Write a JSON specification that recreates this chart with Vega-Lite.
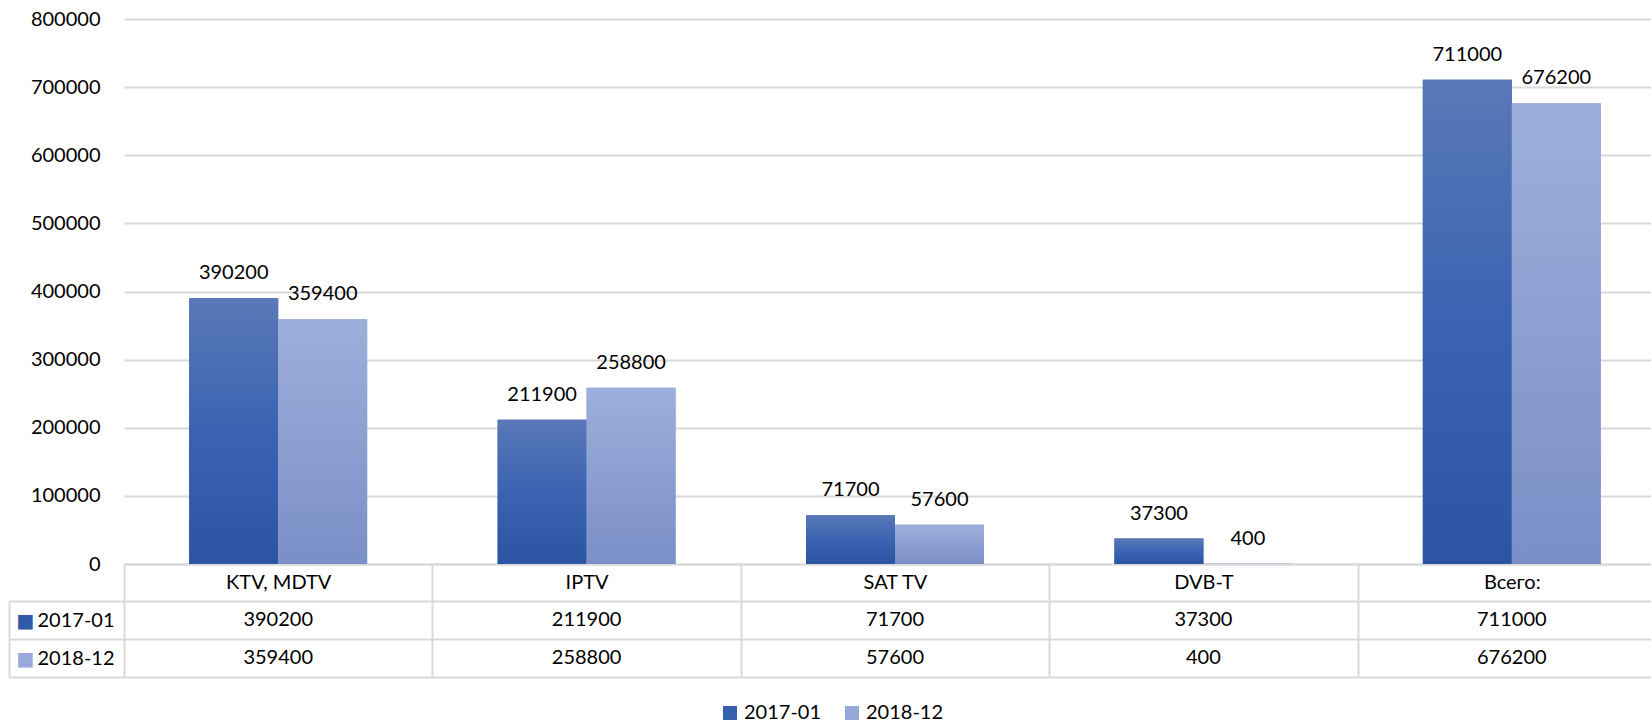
{
  "$schema": "https://vega.github.io/schema/vega-lite/v6.json",
  "padding": {"left": 8, "top": 9, "right": -15, "bottom": 0},
  "config": {
    "font": "Lato",
    "view": {"stroke": null},
    "text": {"font": "Lato"}
  },
  "datasets": {
    "main": [
      {"category": "KTV, MDTV", "series": "2017-01", "value": 390200},
      {"category": "KTV, MDTV", "series": "2018-12", "value": 359400},
      {"category": "IPTV", "series": "2017-01", "value": 211900},
      {"category": "IPTV", "series": "2018-12", "value": 258800},
      {"category": "SAT TV", "series": "2017-01", "value": 71700},
      {"category": "SAT TV", "series": "2018-12", "value": 57600},
      {"category": "DVB-T", "series": "2017-01", "value": 37300},
      {"category": "DVB-T", "series": "2018-12", "value": 400},
      {"category": "Всего:", "series": "2017-01", "value": 711000},
      {"category": "Всего:", "series": "2018-12", "value": 676200}
    ]
  },
  "bounds": "flush",
  "spacing": 37,
  "vconcat": [
    {
      "width": 1542,
      "height": 545,
      "data": {"name": "main"},
      "encoding": {
        "x": {
          "field": "category", "type": "nominal", "sort": null,
          "scale": {"paddingInner": 0.423, "paddingOuter": 0.2115},
          "axis": {
            "title": null, "labelAngle": 0, "grid": false,
            "domainColor": "#d9d9d9", "domainWidth": 2,
            "bandPosition": 0, "tickOffset": -65.2, "labelOffset": 65.2, "tickSize": 37,
            "tickColor": "#d9d9d9", "tickWidth": 2,
            "labelFontSize": 20, "labelColor": "#000000", "labelPadding": -18.5, "labelBaseline": "middle",
            "labelFont": "Lato"
          }
        },
        "xOffset": {"field": "series", "type": "nominal", "scale": {"paddingInner": 0, "paddingOuter": 0}},
        "y": {
          "field": "value", "type": "quantitative",
          "scale": {"domain": [0, 800000], "nice": false},
          "axis": {
            "title": null,
            "values": [0, 100000, 200000, 300000, 400000, 500000, 600000, 700000, 800000],
            "format": "d", "domain": false, "ticks": false, "labelPadding": 24,
            "labelFontSize": 20, "labelColor": "#000000", "labelFont": "Lato",
            "gridColor": "#d9d9d9", "gridWidth": 2
          }
        }
      },
      "layer": [
        {
          "mark": {"type": "bar"},
          "encoding": {
            "color": {
              "field": "series", "type": "nominal",
              "scale": {"range": ["#3560ae", "#95a8d8"]},
              "legend": {
                "title": null, "orient": "none", "legendX": 596, "legendY": 684,
                "direction": "horizontal", "symbolType": "square", "symbolSize": 196,
                "symbolStrokeWidth": 0, "labelFontSize": 20, "labelColor": "#000000", "labelFont": "Lato",
                "labelOffset": 4, "columnPadding": 20, "padding": 0
              }
            }
          }
        },
        {
          "transform": [{"filter": "datum.series === '2017-01'"}],
          "mark": {"type": "bar", "fill": {"gradient": "linear", "x1": 0, "y1": 0, "x2": 0, "y2": 1, "stops": [
                  {"offset": 0, "color": "#5a78b8"}, {"offset": 0.5, "color": "#3a63b1"}, {"offset": 1, "color": "#2b55a3"}]}}
        },
        {
          "transform": [{"filter": "datum.series === '2018-12'"}],
          "mark": {"type": "bar", "fill": {"gradient": "linear", "x1": 0, "y1": 0, "x2": 0, "y2": 1, "stops": [
                  {"offset": 0, "color": "#9dafdc"}, {"offset": 1, "color": "#7a8fc6"}]}}
        },
        {
          "mark": {"type": "text", "dy": -19, "baseline": "alphabetic", "fontSize": 20, "color": "#000000"},
          "encoding": {"text": {"field": "value", "type": "quantitative", "format": "d"}}
        }
      ]
    },
    {
      "width": 1542,
      "height": 76,
      "data": {"name": "main"},
      "layer": [
        {
          "mark": {"type": "text", "fontSize": 20, "color": "#000000", "baseline": "middle"},
          "encoding": {
            "x": {
              "field": "category", "type": "nominal", "sort": null,
              "scale": {"paddingInner": 0, "paddingOuter": 0},
              "axis": {"title": null, "labels": false, "ticks": false, "domain": false, "grid": true,
                       "tickBand": "extent", "gridColor": "#d9d9d9", "gridWidth": 2}
            },
            "y": {
              "field": "series", "type": "nominal",
              "scale": {"paddingInner": 0, "paddingOuter": 0},
              "axis": {"title": null, "domain": false, "grid": true, "tickBand": "extent",
                       "gridColor": "#d9d9d9", "gridWidth": 2, "ticks": true, "tickSize": 115,
                       "tickColor": "#d9d9d9", "tickWidth": 2, "labelAlign": "left", "labelPadding": -28,
                       "labelFontSize": 20, "labelColor": "#000000", "labelBaseline": "middle", "labelFont": "Lato"}
            },
            "text": {"field": "value", "type": "quantitative", "format": "d"}
          }
        },
        {
          "mark": {"type": "text", "text": ""},
          "encoding": {
            "y": {
              "field": "series", "type": "nominal",
              "scale": {"paddingInner": 0, "paddingOuter": 0},
              "axis": {"orient": "left", "offset": 115, "title": null, "domain": true,
                       "domainColor": "#d9d9d9", "domainWidth": 2, "ticks": false, "grid": false,
                       "labelExpr": "'■'", "labelAlign": "left", "labelPadding": -7, "labelFontSize": 19,
                       "labelFont": "DejaVu Sans",
                       "labelColor": {"condition": {"test": "datum.value === '2017-01'", "value": "#2f5aa8"}, "value": "#98aadb"},
                       "labelBaseline": "middle"}
            }
          }
        }
      ],
      "resolve": {"scale": {"y": "independent"}, "axis": {"y": "independent"}}
    }
  ]
}
